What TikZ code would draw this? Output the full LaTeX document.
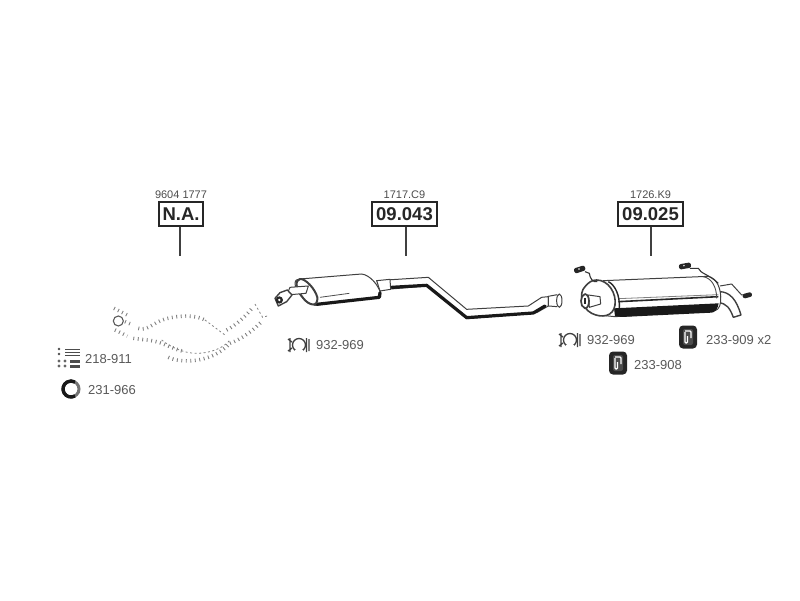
\documentclass[tikz,border=0pt]{standalone}
\usepackage{fontspec}
\setmainfont{Liberation Sans}
\usetikzlibrary{positioning}
\tikzset{
  partbox/.style={draw=black!85,line width=1.2pt,fill=white,font=\bfseries\fontsize{18.5}{20}\selectfont,text=black!85,minimum width=65pt,minimum height=24pt,inner sep=0pt},
  oemnum/.style={font=\fontsize{11}{12}\selectfont,text=black!70,inner sep=0pt},
  fitnum/.style={font=\fontsize{13}{15}\selectfont,text=black!65,inner sep=0pt,anchor=west},
  leader/.style={draw=black!75,line width=1.3pt},
  pipeline/.style={draw=black!75,line width=1pt,fill=white,line join=round},
  heavy/.style={draw=black!90,line width=3.2pt,line cap=round,line join=round},
  ghost/.style={draw=black!50,line width=3.6pt,dash pattern=on .9pt off 3.6pt},
  ghostline/.style={draw=black!50,line width=.8pt,dash pattern=on 2pt off 2.5pt},
  zoomleft/.style={x=.3333pt,y=-.3333pt,shift={(40pt,-180pt)}},
  zoommid/.style={x=.3333pt,y=-.3333pt,shift={(270pt,-180pt)}},
  zoomright/.style={x=.3333pt,y=-.3333pt,shift={(540pt,-180pt)}},
  clampicon/.pic={
    \draw[black!75,line width=1.3pt] (0,0) circle (6.5pt);
    \draw[black!75,line width=1.3pt] (-7pt,-3pt) -- (-11pt,-6pt) (-7pt,3pt) -- (-11pt,6pt)
      (-9pt,-7pt) -- (-9pt,7pt) (7.5pt,-7pt) -- (7.5pt,7pt) (10pt,-6pt) -- (10pt,6pt);
    \fill[white] (-4pt,-7.5pt) rectangle (4pt,-4.5pt);
  },
  hangericon/.pic={
    \fill[black!85,rounded corners=4pt] (-9pt,-11.5pt) rectangle (9pt,11.5pt);
    \fill[black!70,rounded corners=2pt] (-5pt,-8pt) rectangle (5pt,8pt);
    \draw[white,line width=1.2pt,rounded corners=1pt] (-3pt,5pt) -- (-3pt,-6pt) -- (-.5pt,-6pt) -- (-.5pt,1pt) (3pt,-1pt) -- (3pt,6pt) -- (-3pt,6pt);
  }
}
\begin{document}
\begin{tikzpicture}[x=1pt,y=-1pt]
\useasboundingbox (0,0) rectangle (800,600);

% boxes and their leaders
\node[partbox,minimum width=44pt] (boxfront) at (181,214) {N.A.};
\node[partbox] (boxmid) at (404.5,214) {09.043};
\node[partbox] (boxrear) at (650.5,214) {09.025};
\node[oemnum,above=3pt of boxfront] (oemfront) {9604 1777};
\node[oemnum,above=3pt of boxmid] (oemmid) {1717.C9};
\node[oemnum,above=3pt of boxrear] (oemrear) {1726.K9};
\coordinate (endfront) at (180,256);
\coordinate (endmid) at (406,256);
\coordinate (endrear) at (651,256);
\draw[leader] (boxfront.south -| endfront) -- (endfront);
\draw[leader] (boxmid.south -| endmid) -- (endmid);
\draw[leader] (boxrear.south -| endrear) -- (endrear);

% front pipe, not available
\begin{scope}[zoomleft]
\draw[black!65,line width=1.1pt] (235,423) circle (15);
\draw[ghost] (222,385) -- (262,405);
\draw[ghost] (225,450) -- (262,468);
\draw[ghost] (255,425) -- (272,432);
\draw[ghost] (295,445) .. controls (320,455) and (345,425) .. (375,417) .. controls (420,405) and (470,405) .. (495,420);
\draw[ghostline] (495,420) -- (555,465);
\draw[ghost] (280,475) .. controls (310,480) and (340,480) .. (365,490) .. controls (390,500) and (410,510) .. (435,515);
\draw[ghost] (385,532) .. controls (420,550) and (510,550) .. (565,495);
\draw[ghostline] (365,480) .. controls (390,500) and (430,520) .. (470,520) .. controls (510,520) and (550,505) .. (570,480);
\draw[ghost] (560,450) .. controls (590,435) and (620,405) .. (640,380);
\draw[ghost] (570,490) .. controls (610,475) and (640,450) .. (665,425);
\draw[ghostline] (645,372) -- (668,412) -- (682,408);
\end{scope}

% middle muffler
\begin{scope}[zoommid]
\draw[pipeline] (350,300) -- (475,292) -- (590,388) -- (775,378) -- (815,352) -- (835,350) -- (835,378) -- (800,398) -- (592,416) -- (470,318) -- (350,328) -- cycle;
\draw[heavy] (365,322) -- (470,316) -- (590,413) -- (790,399) -- (825,378);
\draw[pipeline] (862,344) -- (835,349) -- (835,378) -- (862,380);
\draw[pipeline] (868,362) ellipse (8 and 20);
\draw[pipeline] (320,302) -- (360,298) -- (362,328) -- (330,333) -- cycle;
\draw[pipeline] (90,297) -- (275,282) .. controls (300,285) and (325,315) .. (332,340) -- (332,350) -- (135,376) .. controls (100,365) and (75,330) .. (75,310) .. controls (75,300) and (82,297) .. (90,297) -- cycle;
\draw[heavy] (140,373) -- (328,352) -- (330,338);
\draw[draw=black!70,line width=.8pt] (150,352) -- (238,340);
\draw[pipeline,line width=2pt] (90,297) .. controls (75,300) and (75,325) .. (100,355) .. controls (115,375) and (145,385) .. (142,352) .. controls (135,325) and (105,295) .. (90,297) -- cycle;
\draw[pipeline] (115,318) -- (60,322) -- (50,345) -- (108,340) -- cycle;
\draw[pipeline,line width=1.4pt] (52,330) -- (30,338) -- (15,355) -- (25,378) -- (50,365) -- (66,345) -- cycle;
\fill[black!85] (28,360) circle (11);
\fill[white] (28,360) circle (4);
\end{scope}

% rear muffler
\begin{scope}[zoomright]
\draw[pipeline,line width=1.4pt] (538,335) .. controls (570,335) and (590,360) .. (603,405) -- (580,412) .. controls (570,385) and (560,370) .. (535,368);
\draw[pipeline] (540,318) -- (575,312) -- (605,345) -- (625,345);
\fill[black!85,rotate around={15:(622,346)},rounded corners=2pt] (608,339) rectangle (636,353);
\draw[pipeline] (190,302) -- (505,289) .. controls (530,295) and (545,325) .. (542,365) .. controls (540,385) and (530,395) .. (515,392) -- (225,410) -- (175,405) -- cycle;
\fill[black!90] (222,385) -- (536,370) .. controls (534,385) and (525,398) .. (515,398) -- (245,411) -- (225,408) -- cycle;
\draw[draw=black!85,line width=1.6pt] (235,365) -- (535,350);
\draw[draw=black!50,line width=.8pt] (235,356) -- (535,344);
\draw[draw=black!85,line width=1.4pt] (205,305) .. controls (225,315) and (240,345) .. (238,385);
\draw[draw=black!70,line width=.9pt] (490,290) .. controls (515,295) and (530,320) .. (530,355);
\draw[pipeline,line width=1.6pt] (170,300) .. controls (205,300) and (230,340) .. (225,375) .. controls (220,410) and (185,415) .. (155,400) .. controls (125,385) and (115,340) .. (135,320) .. controls (145,308) and (155,300) .. (170,300) -- cycle;
\draw[pipeline] (145,345) -- (180,350) -- (182,372) -- (148,382) -- cycle;
\draw[pipeline,line width=1.7pt] (135,342) .. controls (120,345) and (118,380) .. (135,385) .. controls (150,385) and (152,345) .. (135,342) -- cycle;
\draw[black!85,line width=2pt] (135,355) -- (135,372);
% sensor wires
\draw[draw=black!80,line width=1.1pt] (135,275) -- (148,280) .. controls (150,295) and (158,308) .. (172,305);
\fill[black!85,rotate around={18:(120,268)},rounded corners=2pt] (102,260) rectangle (136,276);
\fill[white] (117,267) circle (2.5);
\draw[draw=black!80,line width=1.1pt] (450,265) -- (475,265) .. controls (480,280) and (510,285) .. (535,310);
\fill[black!85,rotate around={10:(435,258)},rounded corners=2pt] (417,250) rectangle (453,266);
\fill[white] (432,257) circle (2.5);
\end{scope}

% small parts
\pic at (299,345) {clampicon};
\node[fitnum] (nummidclamp) at (316,345) {932-969};
\pic at (570,340) {clampicon};
\node[fitnum] (numrearclamp) at (587,340) {932-969};
\pic at (688,337) {hangericon};
\node[fitnum] (numhangertwo) at (706,340) {233-909 x2};
\pic at (618,363) {hangericon};
\node[fitnum] (numhanger) at (634,365) {233-908};
\node[fitnum] (numkit) at (85,359) {218-911};
\node[fitnum] (numring) at (88,390) {231-966};
\draw[black!55,line width=3pt] (71,389) circle (8);
\draw[black!90,line width=3.4pt] (71,389) ++(60:8) arc (60:300:8);

% fitting kit
\fill[black!70] (59,349) circle (1.3) (59,354) circle (1.3);
\foreach \y in {349,352,355} \draw[black!70,line width=1pt] (65,\y) -- (80,\y);
\foreach \y in {361,366} {
  \fill[black!60] (59,\y) circle (1.6) (65,\y) circle (1.6);
  \fill[black!70] (70,\y-1.5) rectangle (80,\y+1.5);
}
\end{tikzpicture}
\end{document}
